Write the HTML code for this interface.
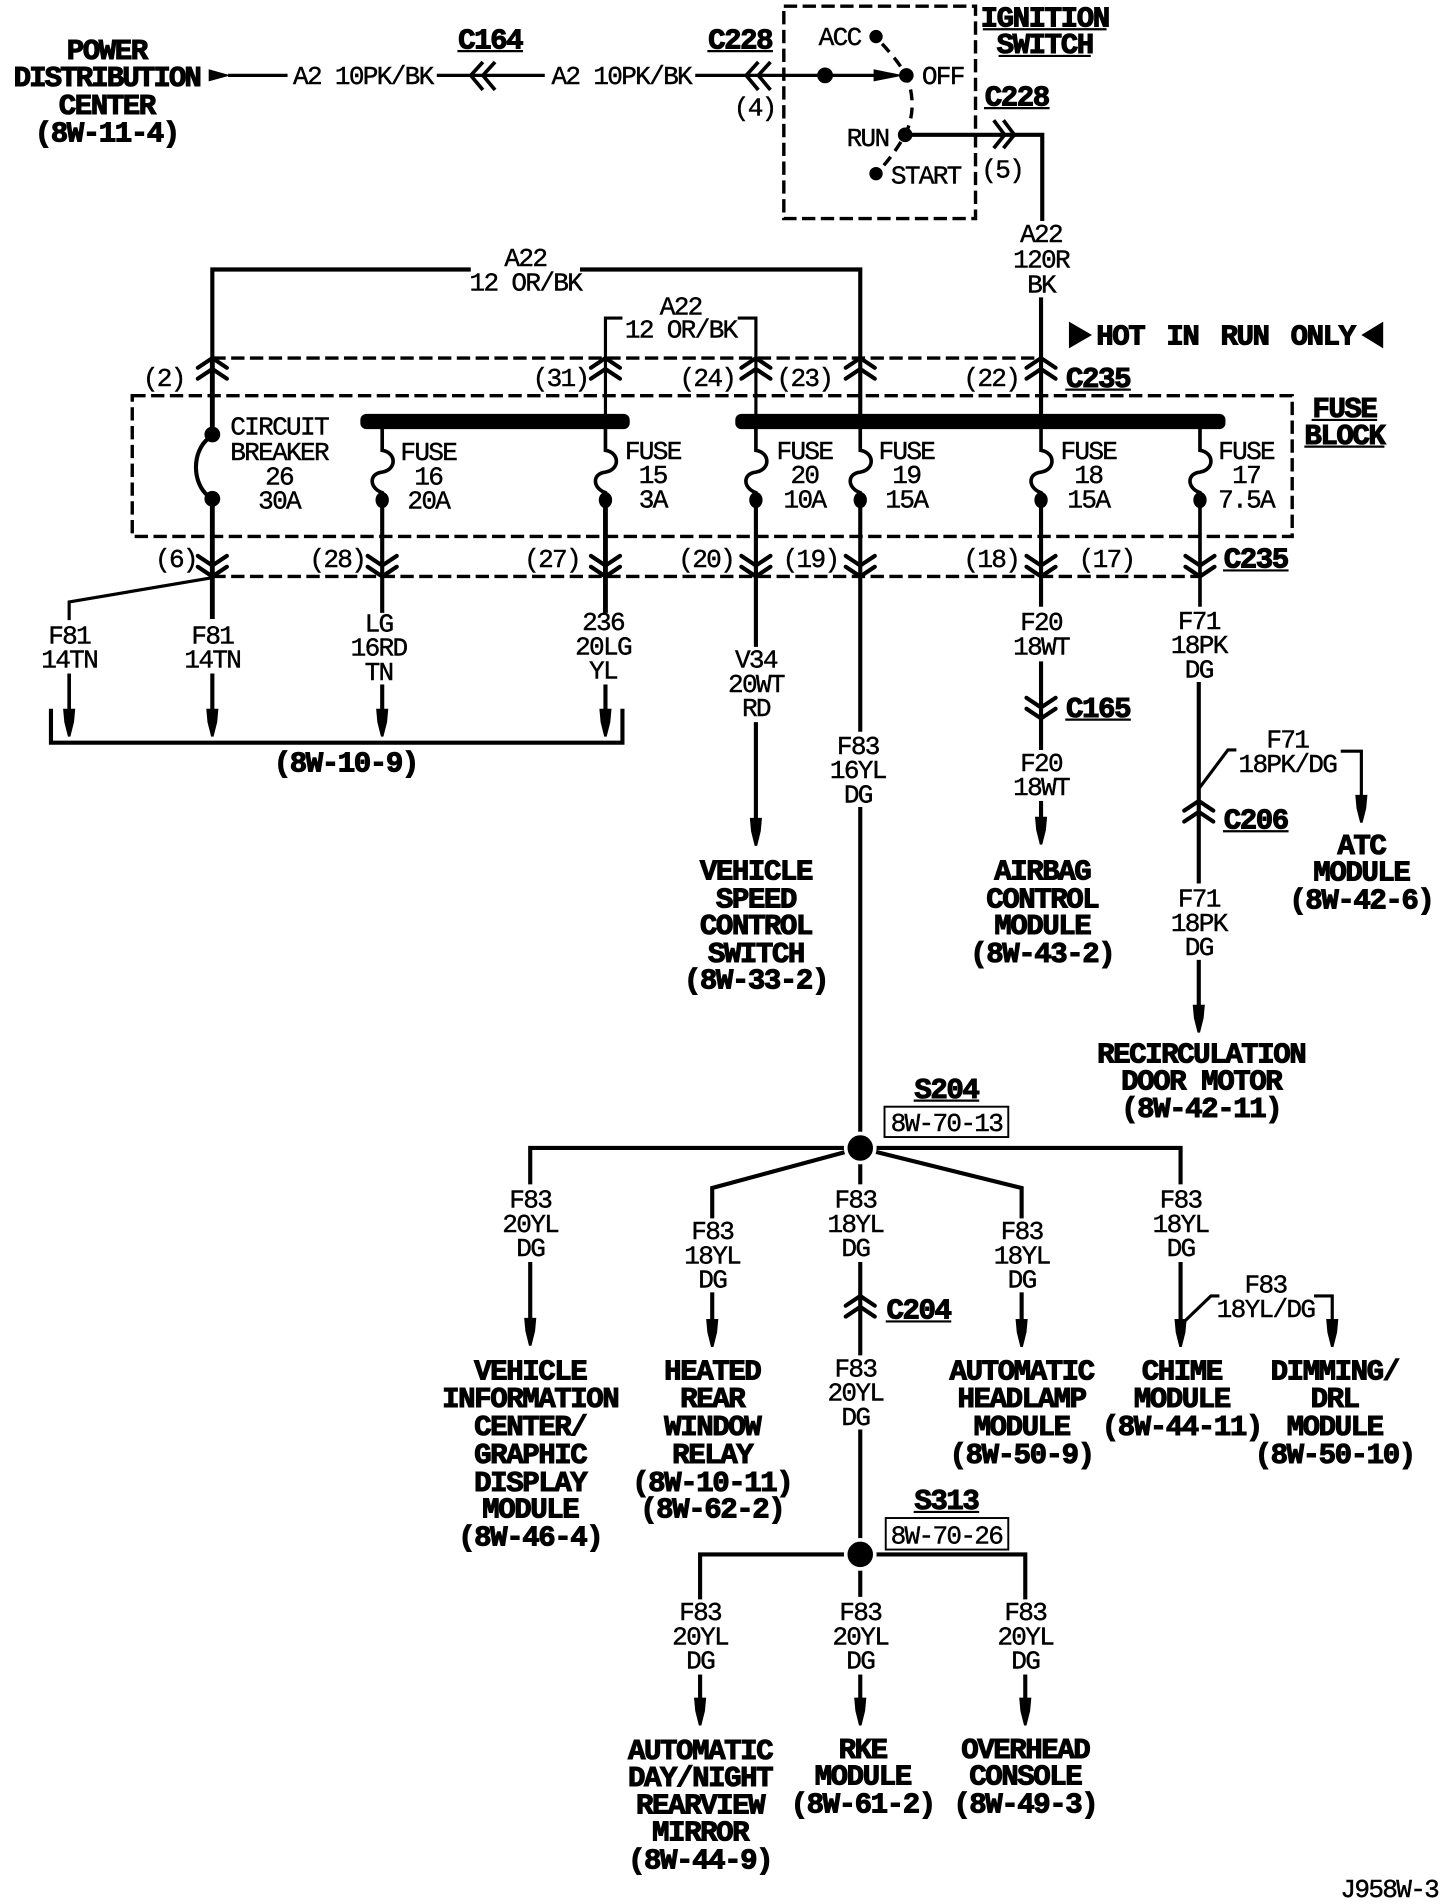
<!DOCTYPE html>
<html lang="en">
<head>
<meta charset="utf-8">
<title>Wiring diagram J958W-3</title>
<style>
html,body{margin:0;padding:0;background:#fff}
svg{display:block;width:1456px;height:1904px}
text{font-family:"Liberation Mono",monospace;fill:#000;stroke:#000;text-anchor:middle;dominant-baseline:central}
.t{font-size:21.5px;letter-spacing:-1.4px;stroke-width:.35px;transform:translateY(1.4px)}
.b{font-size:24px;font-weight:bold;letter-spacing:-1.2px;stroke-width:.9px;transform:translateY(1.5px)}
.w{fill:none;stroke:#000;stroke-width:3.4}
.n{fill:none;stroke:#000;stroke-width:2.6}
.d{fill:none;stroke:#000;stroke-width:2.8;stroke-dasharray:11 4.5}
.ul{fill:none;stroke:#000;stroke-width:1.8}
</style>
</head>
<body>
<svg viewBox="0 0 1200 1569" xmlns="http://www.w3.org/2000/svg">
<defs>
<g id="cu"><path d="M-12,8 L0,0 L12,8 M-12,17 L0,9 L12,17" fill="none" stroke="#000" stroke-width="3.4" stroke-linecap="round"/></g>
<g id="cd"><path d="M-12,-8 L0,0 L12,-8 M-12,-17 L0,-9 L12,-17" fill="none" stroke="#000" stroke-width="3.4" stroke-linecap="round"/></g>
<g id="ar"><path d="M-5,-23 L5,-23 L4,-12 L1,0 L-1,0 L-4,-12 Z" fill="#000"/></g>
<g id="fu"><path d="M0,352 V371 C12,373 12,387 0,389 C-11,390 -11,402 0,406 V411" fill="none" stroke="#000" stroke-width="3"/><ellipse cx="0" cy="412" rx="5.5" ry="6.6" fill="#000"/></g>
</defs>
<rect width="1200" height="1569" fill="#fff"/>

<!-- top row -->
<text class="b" x="88" y="41">POWER</text>
<text class="b" x="88" y="63" style="letter-spacing:-1.6px">DISTRIBUTION</text>
<text class="b" x="88" y="86">CENTER</text>
<text class="b" x="88" y="109">(8W-11-4)</text>
<path d="M172,57 L190,62 L172,67 Z" fill="#000"/>
<path class="n" d="M188,62 H237"/>
<text class="t" x="299" y="62">A2 10PK/BK</text>
<path class="n" d="M360,62 H449"/>
<path d="M398,51 L388,62 L398,74 M408,51 L398,62 L408,74" class="n" style="stroke-width:3"/>
<text class="b" x="404" y="32">C164</text><path class="ul" d="M377,42 H431"/>
<text class="t" x="512" y="62">A2 10PK/BK</text>
<path class="n" d="M573,62 H725"/>
<path d="M625,51 L615,62 L625,74 M635,51 L625,62 L635,74" class="n" style="stroke-width:3"/>
<text class="b" x="610" y="32">C228</text><path class="ul" d="M583,42 H637"/>
<text class="t" x="622" y="88">(4)</text>
<circle cx="680" cy="62" r="6.5" fill="#000"/>
<path d="M720,57 L745,62 L720,67 Z" fill="#000"/>

<!-- ignition -->
<rect class="d" x="646" y="5" width="158" height="175"/>
<text class="b" x="861" y="14">IGNITION</text><path class="ul" d="M810,24 H912"/>
<text class="b" x="861" y="36">SWITCH</text><path class="ul" d="M823,46 H899"/>
<text class="t" x="692" y="30">ACC</text>
<text class="t" x="777" y="62">OFF</text>
<text class="t" x="715" y="113">RUN</text>
<text class="t" x="763" y="144">START</text>
<circle cx="722" cy="30" r="5.5" fill="#000"/>
<circle cx="747" cy="62" r="6" fill="#000"/>
<circle cx="746" cy="111" r="6" fill="#000"/>
<circle cx="722" cy="143" r="5.5" fill="#000"/>
<path class="n" stroke-dasharray="9 6" d="M727,36 Q740,50 747,62 Q757,88 746,111 Q735,130 723,142" style="stroke-width:2.8"/>
<text class="b" x="838" y="79">C228</text><path class="ul" d="M811,89 H865"/>
<path class="w" d="M746,111 H859 V182"/>
<path class="n" d="M819,99 L828,111 L819,122 M827,99 L836,111 L827,122" fill="none" style="stroke-width:3"/>
<text class="t" x="826" y="139">(5)</text>
<text class="t" x="858" y="192">A22</text>
<text class="t" x="858" y="213">120R</text>
<text class="t" x="858" y="234">BK</text>
<path class="w" d="M858,245 V346"/>

<!-- A22 feeds -->
<path class="w" d="M388,222 H175 V358"/>
<path class="w" d="M478,222 H709 V346"/>
<text class="t" x="433" y="212">A22</text>
<text class="t" x="433" y="232">12 OR/BK</text>
<path class="n" d="M513,262 H499 V346"/>
<path class="n" d="M608,262 H623 V346"/>
<text class="t" x="561" y="252">A22</text>
<text class="t" x="561" y="271">12 OR/BK</text>

<path d="M881,265 L900,276 L881,287 Z" fill="#000"/>
<text class="b" x="1010" y="276" style="word-spacing:5px">HOT IN RUN ONLY</text>
<path d="M1140,265 L1122,276 L1140,287 Z" fill="#000"/>

<!-- connector dashed lines -->
<path class="d" d="M175,295 H858"/>
<path class="d" d="M175,475 H988"/>
<rect class="d" x="109" y="326" width="956" height="116"/>
<text class="b" x="1108" y="336">FUSE</text><path class="ul" d="M1081,346 H1135"/>
<text class="b" x="1108" y="358">BLOCK</text><path class="ul" d="M1075,368 H1141"/>

<use href="#cu" x="175" y="295"/><use href="#cu" x="499" y="295"/><use href="#cu" x="623" y="295"/><use href="#cu" x="709" y="295"/><use href="#cu" x="858" y="295"/>
<text class="t" x="135" y="311">(2)</text>
<text class="t" x="462" y="311">(31)</text>
<text class="t" x="583" y="311">(24)</text>
<text class="t" x="663" y="311">(23)</text>
<text class="t" x="817" y="311">(22)</text>
<text class="b" x="905" y="311">C235</text><path class="ul" d="M878,321 H932"/>

<!-- bus bars -->
<rect x="297" y="341" width="222" height="12.6" rx="5" fill="#000"/>
<rect x="606" y="341" width="404" height="12.6" rx="5" fill="#000"/>

<!-- breaker -->
<circle cx="175" cy="358" r="6.5" fill="#000"/>
<circle cx="175" cy="411" r="6.5" fill="#000"/>
<path class="w" d="M172,361 C158,372 158,398 172,409"/>
<text class="t" x="230" y="351">CIRCUIT</text>
<text class="t" x="230" y="372">BREAKER</text>
<text class="t" x="230" y="392">26</text>
<text class="t" x="230" y="412">30A</text>

<!-- fuses -->
<use href="#fu" x="315"/><use href="#fu" x="499"/><use href="#fu" x="623"/><use href="#fu" x="709"/><use href="#fu" x="858"/><use href="#fu" x="989"/>
<text class="t" x="353" y="372">FUSE</text><text class="t" x="353" y="392">16</text><text class="t" x="353" y="412">20A</text>
<text class="t" x="538" y="371">FUSE</text><text class="t" x="538" y="391">15</text><text class="t" x="538" y="411">3A</text>
<text class="t" x="663" y="371">FUSE</text><text class="t" x="663" y="391">20</text><text class="t" x="663" y="411">10A</text>
<text class="t" x="747" y="371">FUSE</text><text class="t" x="747" y="391">19</text><text class="t" x="747" y="411">15A</text>
<text class="t" x="897" y="371">FUSE</text><text class="t" x="897" y="391">18</text><text class="t" x="897" y="411">15A</text>
<text class="t" x="1027" y="371">FUSE</text><text class="t" x="1027" y="391">17</text><text class="t" x="1027" y="411">7.5A</text>

<!-- wires to lower connector -->
<path class="w" d="M175,411 V510" style="stroke-width:4"/>
<path class="w" d="M175,295 V358" style="stroke-width:4"/>
<path class="w" d="M315,411 V505"/>
<path class="w" d="M499,411 V505" style="stroke-width:4"/>
<path class="w" d="M623,411 V533"/>
<path class="w" d="M709,411 V603"/>
<path class="w" d="M858,411 V500"/>
<path class="n" d="M989,411 V500" style="stroke-width:3"/>
<use href="#cd" x="175" y="475"/><use href="#cd" x="315" y="475"/><use href="#cd" x="499" y="475"/><use href="#cd" x="623" y="475"/><use href="#cd" x="709" y="475"/><use href="#cd" x="858" y="475"/><use href="#cd" x="989" y="475"/>
<text class="t" x="145" y="460">(6)</text>
<text class="t" x="278" y="460">(28)</text>
<text class="t" x="455" y="460">(27)</text>
<text class="t" x="582" y="460">(20)</text>
<text class="t" x="668" y="460">(19)</text>
<text class="t" x="817" y="460">(18)</text>
<text class="t" x="912" y="460">(17)</text>
<text class="b" x="1035" y="460">C235</text><path class="ul" d="M1008,470 H1062"/>

<!-- 8W-10-9 group -->
<path class="n" d="M175,476 L57,496 V511"/>
<text class="t" x="57" y="523">F81</text><text class="t" x="57" y="543">14TN</text>
<text class="t" x="175" y="523">F81</text><text class="t" x="175" y="543">14TN</text>
<text class="t" x="312" y="513">LG</text><text class="t" x="312" y="533">16RD</text><text class="t" x="312" y="553">TN</text>
<text class="t" x="497" y="512">236</text><text class="t" x="497" y="532">20LG</text><text class="t" x="497" y="552">YL</text>
<path class="n" d="M57,555 V590" style="stroke-width:3"/><use href="#ar" x="57" y="607"/>
<path class="w" d="M175,555 V590"/><use href="#ar" x="175" y="607"/>
<path class="w" d="M315,564 V590"/><use href="#ar" x="315" y="607"/>
<path class="w" d="M499,564 V590"/><use href="#ar" x="499" y="607"/>
<path class="w" d="M42,584 V612 H513 V584"/>
<text class="b" x="285" y="628">(8W-10-9)</text>

<!-- V34 -->
<text class="t" x="623" y="543">V34</text><text class="t" x="623" y="563">20WT</text><text class="t" x="623" y="583">RD</text>
<path class="w" d="M623,595 V680"/><use href="#ar" x="623" y="697"/>
<text class="b" x="623" y="717">VEHICLE</text><text class="b" x="623" y="740">SPEED</text><text class="b" x="623" y="762">CONTROL</text><text class="b" x="623" y="785">SWITCH</text><text class="b" x="623" y="807">(8W-33-2)</text>

<!-- F20 -->
<text class="t" x="858" y="512">F20</text><text class="t" x="858" y="532">18WT</text>
<path class="w" d="M858,545 V618"/>
<use href="#cd" x="858" y="592"/>
<text class="b" x="905" y="583">C165</text><path class="ul" d="M878,593 H932"/>
<text class="t" x="858" y="628">F20</text><text class="t" x="858" y="648">18WT</text>
<path class="w" d="M858,660 V680"/><use href="#ar" x="858" y="696"/>
<text class="b" x="859" y="717">AIRBAG</text><text class="b" x="859" y="740">CONTROL</text><text class="b" x="859" y="762">MODULE</text><text class="b" x="859" y="785">(8W-43-2)</text>

<!-- F71 -->
<text class="t" x="988" y="511">F71</text><text class="t" x="988" y="531">18PK</text><text class="t" x="988" y="551">DG</text>
<path class="w" d="M988,562 V728"/>
<path class="n" d="M988,650 L1012,618 H1019"/>
<text class="t" x="1061" y="609">F71</text><text class="t" x="1061" y="629">18PK/DG</text>
<path class="n" d="M1105,619 H1122 V660"/><use href="#ar" x="1122" y="678"/>
<use href="#cu" x="988" y="660"/>
<text class="b" x="1035" y="675">C206</text><path class="ul" d="M1008,685 H1062"/>
<text class="b" x="1122" y="696">ATC</text><text class="b" x="1122" y="718">MODULE</text><text class="b" x="1122" y="741">(8W-42-6)</text>
<text class="t" x="988" y="740">F71</text><text class="t" x="988" y="760">18PK</text><text class="t" x="988" y="780">DG</text>
<path class="w" d="M988,791 V835"/><use href="#ar" x="988" y="851"/>
<text class="b" x="990" y="868">RECIRCULATION</text><text class="b" x="990" y="890">DOOR MOTOR</text><text class="b" x="990" y="913">(8W-42-11)</text>

<!-- F83 trunk & S204 -->
<text class="t" x="707" y="614">F83</text><text class="t" x="707" y="634">16YL</text><text class="t" x="707" y="654">DG</text>
<path class="w" d="M709,665 V945"/>
<text class="b" x="780" y="897">S204</text><path class="ul" d="M753,907 H807"/>
<rect x="729" y="912" width="102" height="25" fill="#fff" stroke="#000" stroke-width="1.6"/>
<text class="t" x="780" y="925">8W-70-13</text>
<path class="w" d="M709,946 H437 V976"/>
<path class="w" d="M709,946 L587,979 V1004"/>
<path class="w" d="M709,946 V976"/>
<path class="w" d="M709,946 L842,979 V1004"/>
<path class="w" d="M709,946 H973 V976"/>
<circle cx="709" cy="946" r="12" fill="#000" stroke="#fff" stroke-width="3"/>

<text class="t" x="437" y="988">F83</text><text class="t" x="437" y="1008">20YL</text><text class="t" x="437" y="1028">DG</text>
<path class="w" d="M437,1040 V1092"/><use href="#ar" x="437" y="1109"/>
<text class="b" x="437" y="1129">VEHICLE</text><text class="b" x="437" y="1152">INFORMATION</text><text class="b" x="437" y="1175">CENTER/</text><text class="b" x="437" y="1198">GRAPHIC</text><text class="b" x="437" y="1221">DISPLAY</text><text class="b" x="437" y="1243">MODULE</text><text class="b" x="437" y="1266">(8W-46-4)</text>

<text class="t" x="587" y="1014">F83</text><text class="t" x="587" y="1034">18YL</text><text class="t" x="587" y="1054">DG</text>
<path class="w" d="M587,1065 V1092"/><use href="#ar" x="587" y="1110"/>
<text class="b" x="587" y="1129">HEATED</text><text class="b" x="587" y="1152">REAR</text><text class="b" x="587" y="1175">WINDOW</text><text class="b" x="587" y="1198">RELAY</text><text class="b" x="587" y="1221">(8W-10-11)</text><text class="b" x="587" y="1243">(8W-62-2)</text>

<text class="t" x="705" y="988">F83</text><text class="t" x="705" y="1008">18YL</text><text class="t" x="705" y="1028">DG</text>
<path class="w" d="M709,1040 V1117"/>
<use href="#cu" x="709" y="1068"/>
<text class="b" x="757" y="1079">C204</text><path class="ul" d="M730,1089 H784"/>
<text class="t" x="705" y="1127">F83</text><text class="t" x="705" y="1147">20YL</text><text class="t" x="705" y="1167">DG</text>
<path class="w" d="M709,1178 V1281"/>

<text class="t" x="842" y="1014">F83</text><text class="t" x="842" y="1034">18YL</text><text class="t" x="842" y="1054">DG</text>
<path class="w" d="M842,1065 V1092"/><use href="#ar" x="842" y="1110"/>
<text class="b" x="842" y="1129">AUTOMATIC</text><text class="b" x="842" y="1152">HEADLAMP</text><text class="b" x="842" y="1175">MODULE</text><text class="b" x="842" y="1198">(8W-50-9)</text>

<text class="t" x="973" y="988">F83</text><text class="t" x="973" y="1008">18YL</text><text class="t" x="973" y="1028">DG</text>
<path class="w" d="M973,1040 V1092"/><use href="#ar" x="973" y="1110"/>
<path class="n" d="M973,1092 L998,1068 H1005"/>
<text class="t" x="1043" y="1058">F83</text><text class="t" x="1043" y="1078">18YL/DG</text>
<path class="n" d="M1083,1068 H1098 V1092"/><use href="#ar" x="1098" y="1110"/>
<text class="b" x="974" y="1129">CHIME</text><text class="b" x="974" y="1152">MODULE</text><text class="b" x="974" y="1175">(8W-44-11)</text>
<text class="b" x="1100" y="1129">DIMMING/</text><text class="b" x="1100" y="1152">DRL</text><text class="b" x="1100" y="1175">MODULE</text><text class="b" x="1100" y="1198">(8W-50-10)</text>

<!-- S313 -->
<text class="b" x="780" y="1236">S313</text><path class="ul" d="M753,1246 H807"/>
<rect x="730" y="1251" width="101" height="26" fill="#fff" stroke="#000" stroke-width="1.6"/>
<text class="t" x="780" y="1265">8W-70-26</text>
<path class="w" d="M577,1318 V1281 H845 V1318"/>
<path class="w" d="M709,1281 V1316"/>
<circle cx="709" cy="1281" r="12" fill="#000" stroke="#fff" stroke-width="3"/>
<text class="t" x="577" y="1328">F83</text><text class="t" x="577" y="1348">20YL</text><text class="t" x="577" y="1368">DG</text>
<text class="t" x="709" y="1328">F83</text><text class="t" x="709" y="1348">20YL</text><text class="t" x="709" y="1368">DG</text>
<text class="t" x="845" y="1328">F83</text><text class="t" x="845" y="1348">20YL</text><text class="t" x="845" y="1368">DG</text>
<path class="w" d="M577,1380 V1405"/><use href="#ar" x="577" y="1422"/>
<path class="w" d="M709,1380 V1405"/><use href="#ar" x="709" y="1422"/>
<path class="w" d="M845,1380 V1405"/><use href="#ar" x="845" y="1422"/>
<text class="b" x="577" y="1442">AUTOMATIC</text><text class="b" x="577" y="1464">DAY/NIGHT</text><text class="b" x="577" y="1487">REARVIEW</text><text class="b" x="577" y="1509">MIRROR</text><text class="b" x="577" y="1532">(8W-44-9)</text>
<text class="b" x="711" y="1441">RKE</text><text class="b" x="711" y="1463">MODULE</text><text class="b" x="711" y="1486">(8W-61-2)</text>
<text class="b" x="845" y="1441">OVERHEAD</text><text class="b" x="845" y="1463">CONSOLE</text><text class="b" x="845" y="1486">(8W-49-3)</text>

<text class="t" x="1145" y="1556">J958W-3</text>
</svg>
</body>
</html>
